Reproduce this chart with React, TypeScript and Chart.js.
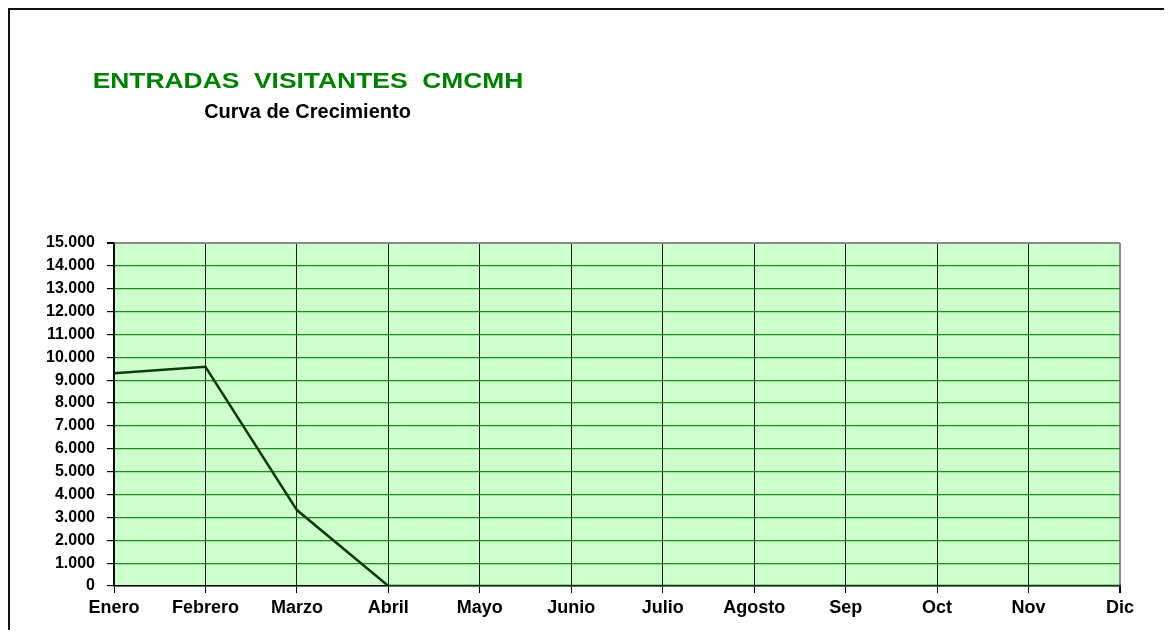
import React, { useEffect, useRef } from 'react';
import { Chart, registerables } from 'chart.js';

Chart.register(...registerables);

const MONTHS = ['Enero', 'Febrero', 'Marzo', 'Abril', 'Mayo', 'Junio', 'Julio', 'Agosto', 'Sep', 'Oct', 'Nov', 'Dic'];
const VISITANTES = [9300, 9590, 3320, 0, 0, 0, 0, 0, 0, 0, 0, 0];
const Y_MIN = 0;
const Y_MAX = 15000;
const Y_STEP = 1000;
const TITLE = 'ENTRADAS  VISITANTES  CMCMH';
const SUBTITLE = 'Curva de Crecimiento';

const FONT = '"Liberation Sans", Arial, sans-serif';

const fmt = (v: number) => String(v).replace(/\B(?=(\d{3})+(?!\d))/g, '.');

const plotBg = {
  id: 'plotBg',
  beforeDraw(chart: any) {
    const { ctx, chartArea } = chart;
    if (!chartArea) return;
    ctx.save();
    ctx.fillStyle = '#CCFFCC';
    ctx.fillRect(chartArea.left, chartArea.top, chartArea.right - chartArea.left, chartArea.bottom - chartArea.top);
    ctx.restore();
  },
};

export default function App() {
  const ref = useRef<HTMLCanvasElement | null>(null);

  useEffect(() => {
    document.body.style.overflow = 'hidden';
    if (!ref.current) return;
    const chart = new Chart(ref.current, {
      type: 'line',
      data: {
        labels: MONTHS,
        datasets: [
          {
            data: VISITANTES,
            borderColor: '#0b3a0b',
            borderWidth: 2.5,
            pointRadius: 0,
            tension: 0,
            fill: false,
          },
        ],
      },
      options: {
        animation: false,
        responsive: false,
        maintainAspectRatio: false,
        layout: { padding: { top: 233, right: 50, left: 0, bottom: 0 } },
        plugins: {
          legend: { display: false },
          title: { display: false },
          tooltip: { enabled: false },
        },
        scales: {
          x: {
            type: 'category',
            offset: false,
            grid: {
              color: (c: any) => (c.index === MONTHS.length - 1 ? '#8a8a8a' : '#1a1a1a'),
              lineWidth: (c: any) => (c.index === MONTHS.length - 1 ? 2 : 1),
              tickColor: '#000',
              tickLength: 7,
            },
            border: { color: '#000', width: 1.5 },
            ticks: {
              color: '#000',
              font: { family: FONT, size: 18, weight: 'bold' },
              padding: 4,
              maxRotation: 0,
              autoSkip: false,
            },
            afterFit: (s: any) => {
              s.height = 44;
            },
          },
          y: {
            min: Y_MIN,
            max: Y_MAX,
            grid: {
              color: (c: any) => (c.tick && c.tick.value === Y_MAX ? '#8a8a8a' : '#1a8c1a'),
              lineWidth: (c: any) => (c.tick && c.tick.value === Y_MAX ? 2 : 1.2),
              tickColor: '#000',
              tickLength: 7,
            },
            border: { color: '#000', width: 1.5 },
            ticks: {
              stepSize: Y_STEP,
              color: '#000',
              font: { family: FONT, size: 16, weight: 'bold' },
              padding: 12,
              callback: (v: any) => fmt(Number(v)),
            },
            afterFit: (s: any) => {
              s.width = 104;
            },
          },
        },
      },
      plugins: [plotBg],
    } as any);
    return () => chart.destroy();
  }, []);

  return (
    <div
      style={{
        position: 'relative',
        width: 1162,
        height: 620,
        borderTop: '2px solid #111',
        borderLeft: '2px solid #111',
        background: '#fff',
      }}
    >
      <canvas ref={ref} width={1160} height={620} style={{ display: 'block', width: 1160, height: 620 }} />
      <div
        style={{
          position: 'absolute',
          left: 298,
          top: 60,
          transform: 'translateX(-50%) scaleX(1.2)',
          transformOrigin: 'center',
          fontFamily: FONT,
          fontWeight: 'bold',
          fontSize: 22,
          lineHeight: '22px',
          color: '#008000',
          whiteSpace: 'pre',
        }}
      >
        {TITLE}
      </div>
      <div
        style={{
          position: 'absolute',
          left: 297.5,
          top: 91,
          transform: 'translateX(-50%)',
          fontFamily: FONT,
          fontWeight: 'bold',
          fontSize: 20,
          lineHeight: '20px',
          color: '#000',
          whiteSpace: 'pre',
        }}
      >
        {SUBTITLE}
      </div>
    </div>
  );
}
